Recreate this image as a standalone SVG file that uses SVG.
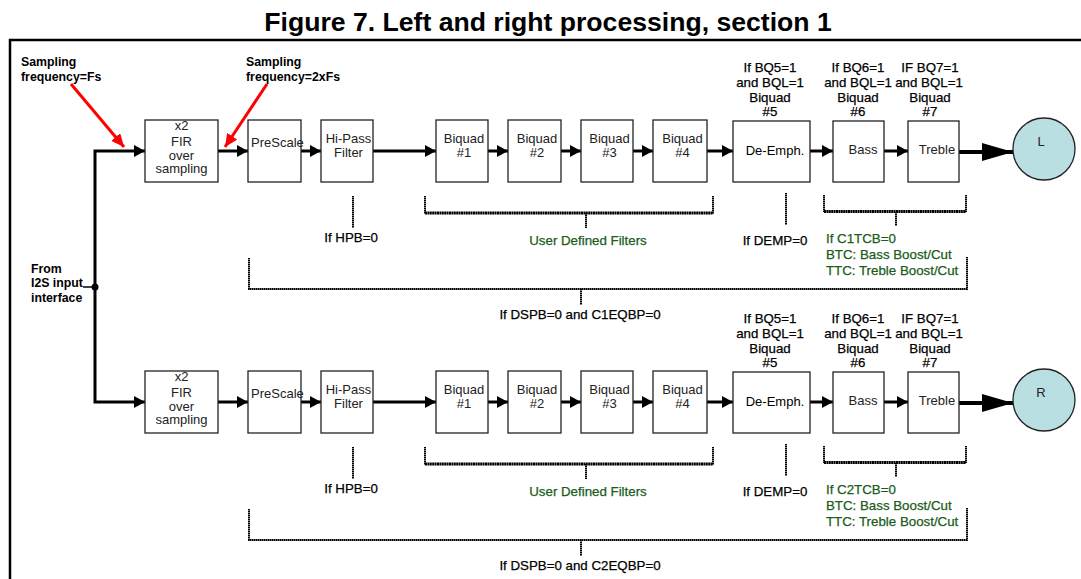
<svg xmlns="http://www.w3.org/2000/svg" width="1081" height="579" viewBox="0 0 1081 579">
<style>
.box{fill:#fff;stroke:#222;stroke-width:1.3}
.bt{font-family:"Liberation Sans",Arial,sans-serif;font-size:13px;fill:#222;text-anchor:middle}
.st{text-anchor:start}
.lb{font-family:"Liberation Sans",Arial,sans-serif;font-size:13.3px;fill:#000;stroke:#000;stroke-width:0.25;text-anchor:middle}
.gr{font-family:"Liberation Sans",Arial,sans-serif;font-size:13.3px;fill:#1a5c1a;stroke:#1a5c1a;stroke-width:0.25}
.bd{font-family:"Liberation Sans",Arial,sans-serif;font-size:12.3px;font-weight:bold;fill:#000}
.wire{fill:none;stroke:#000;stroke-width:3;marker-end:url(#ah)}
.big{fill:none;stroke:#000;stroke-width:4;marker-end:url(#bh)}
.red{fill:none;stroke:#f00;stroke-width:3;marker-end:url(#rh)}
.dot{fill:none;stroke:#000;stroke-width:2;stroke-dasharray:1.6 0.4}
.dotb{fill:none;stroke:#000;stroke-width:3.2;stroke-dasharray:2 0.4}
.circ{fill:#b9dfe3;stroke:#222;stroke-width:1.3}
</style>
<defs>
<marker id="ah" markerUnits="userSpaceOnUse" markerWidth="11" markerHeight="12" refX="11" refY="6" orient="auto"><path d="M0,0 L11,6 L0,12 z" fill="#000"/></marker>
<marker id="bh" markerUnits="userSpaceOnUse" markerWidth="31" markerHeight="18" refX="31" refY="9" orient="auto"><path d="M0,0 L31,9 L0,18 z" fill="#000"/></marker>
<marker id="rh" markerUnits="userSpaceOnUse" markerWidth="13" markerHeight="12" refX="13" refY="6" orient="auto"><path d="M0,0 L13,6 L0,12 z" fill="#f00"/></marker>
</defs>

<text x="548" y="31" text-anchor="middle" font-family="'Liberation Sans',Arial,sans-serif" font-size="26.6" font-weight="bold" fill="#000">Figure 7. Left and right processing, section 1</text>
<path d="M10,579 V40 H1081" fill="none" stroke="#000" stroke-width="2.5"/>

<g id="labels-top">
<text class="bd" x="21" y="66">Sampling</text>
<text class="bd" x="21" y="80.5">frequency=Fs</text>
<text class="bd" x="246" y="66">Sampling</text>
<text class="bd" x="246" y="80.5">frequency=2xFs</text>
</g>
<g id="input">
<text class="bd" x="31" y="273">From</text>
<text class="bd" x="31" y="287">I2S input</text>
<text class="bd" x="31" y="302">interface</text>
<circle cx="95" cy="287" r="3.5" fill="#000"/>
</g>

<g id="connectors">
<path class="red" d="M71,84 L124,147"/>
<path class="red" d="M267,84 L225,147"/>
<path d="M83,287 H95" stroke="#000" stroke-width="1.5"/>
<path class="wire" stroke-width="3.5" d="M95,287 V151 H145"/>
<path class="wire" stroke-width="3.5" d="M95,287 V402 H145"/>
<g id="conn-L">
<path class="wire" d="M218,151 H248"/>
<path class="wire" d="M301,151 H321"/>
<path class="wire" d="M373,151 H436"/>
<path class="wire" d="M488,151 H508"/>
<path class="wire" d="M561,151 H581"/>
<path class="wire" d="M633,151 H653"/>
<path class="wire" d="M707,151 H733"/>
<path class="wire" d="M810,151 H833"/>
<path class="wire" d="M884,151 H908"/>
<path class="big" d="M959,152 H1013"/>
<path class="dot" d="M353,196 V228"/>
<path class="dot" d="M425,196 V214 M713,196 V214 M586,213 V228"/>
<path class="dotb" d="M425,213 H713"/>
<path class="dot" d="M786,193 V225"/>
<path class="dot" d="M824,195 V212 M966,195 V212 M896,212 V226"/>
<path class="dotb" d="M824,211.5 H966"/>
<path class="dot" d="M249,258 V289 H967 V257 M581,289 V305"/>
</g>
<g id="conn-R" transform="translate(0,251)">
<path class="wire" d="M218,151 H248"/>
<path class="wire" d="M301,151 H321"/>
<path class="wire" d="M373,151 H436"/>
<path class="wire" d="M488,151 H508"/>
<path class="wire" d="M561,151 H581"/>
<path class="wire" d="M633,151 H653"/>
<path class="wire" d="M707,151 H733"/>
<path class="wire" d="M810,151 H833"/>
<path class="wire" d="M884,151 H908"/>
<path class="big" d="M959,152 H1013"/>
<path class="dot" d="M353,196 V228"/>
<path class="dot" d="M425,196 V214 M713,196 V214 M586,213 V228"/>
<path class="dotb" d="M425,213 H713"/>
<path class="dot" d="M786,193 V225"/>
<path class="dot" d="M824,195 V212 M966,195 V212 M896,212 V226"/>
<path class="dotb" d="M824,211.5 H966"/>
<path class="dot" d="M249,258 V289 H967 V257 M581,289 V305"/>
</g>
</g>

<g id="row-L">
<g id="fir-L"><rect class="box" x="145" y="120" width="73" height="62"/>
<text class="bt" x="181.5" y="130">x2</text><text class="bt" x="181.5" y="145.5">FIR</text><text class="bt" x="181.5" y="159.5">over</text><text class="bt" x="181.5" y="173">sampling</text></g>
<g id="prescale-L"><rect class="box" x="248" y="120" width="53" height="62"/>
<text class="bt st" x="251" y="147">PreScale</text></g>
<g id="hipass-L"><rect class="box" x="321" y="120" width="52" height="62"/>
<text class="bt" x="348.5" y="143">Hi-Pass</text><text class="bt" x="348.5" y="157">Filter</text></g>
<g id="bq1-L"><rect class="box" x="436" y="120" width="52" height="62"/>
<text class="bt" x="464" y="143">Biquad</text><text class="bt" x="464" y="157">#1</text></g>
<g id="bq2-L"><rect class="box" x="508" y="120" width="53" height="62"/>
<text class="bt" x="537" y="143">Biquad</text><text class="bt" x="537" y="157">#2</text></g>
<g id="bq3-L"><rect class="box" x="581" y="120" width="52" height="62"/>
<text class="bt" x="609.5" y="143">Biquad</text><text class="bt" x="609.5" y="157">#3</text></g>
<g id="bq4-L"><rect class="box" x="653" y="120" width="54" height="62"/>
<text class="bt" x="682.5" y="143">Biquad</text><text class="bt" x="682.5" y="157">#4</text></g>
<g id="deemph-L"><rect class="box" x="733" y="121" width="77" height="61"/>
<text class="bt" x="775" y="155" style="fill:#000">De-Emph.</text></g>
<g id="bass-L"><rect class="box" x="833" y="121" width="51" height="61"/>
<text class="bt" x="863" y="154">Bass</text></g>
<g id="treble-L"><rect class="box" x="908" y="121" width="51" height="61"/>
<text class="bt" x="937" y="154">Treble</text></g>
<g id="out-L"><circle class="circ" cx="1044" cy="149" r="31"/>
<text class="bt" x="1041" y="146">L</text></g>
<g id="lbl-L">
<text class="lb" x="770" y="72">If BQ5=1</text><text class="lb" x="770" y="87">and BQL=1</text><text class="lb" x="770" y="101.5">Biquad</text><text class="lb" x="770" y="116">#5</text>
<text class="lb" x="858" y="72">If BQ6=1</text><text class="lb" x="858" y="87">and BQL=1</text><text class="lb" x="858" y="101.5">Biquad</text><text class="lb" x="858" y="116">#6</text>
<text class="lb" x="930" y="72">IF BQ7=1</text><text class="lb" x="929" y="87">and BQL=1</text><text class="lb" x="930" y="101.5">Biquad</text><text class="lb" x="930" y="116">#7</text>
<text class="lb" x="351" y="242">If HPB=0</text>
<text class="lb" x="775" y="245">If DEMP=0</text>
<text class="gr" x="588" y="244.5" text-anchor="middle">User Defined Filters</text>
<text class="gr" x="826" y="243">If C1TCB=0</text>
<text class="gr" x="826" y="259">BTC: Bass Boost/Cut</text>
<text class="gr" x="826" y="275">TTC: Treble Boost/Cut</text>
<text class="lb" x="580" y="319">If DSPB=0 and C1EQBP=0</text>
</g>
</g>

<g id="row-R" transform="translate(0,251)">
<g id="fir-R"><rect class="box" x="145" y="120" width="73" height="62"/>
<text class="bt" x="181.5" y="130">x2</text><text class="bt" x="181.5" y="145.5">FIR</text><text class="bt" x="181.5" y="159.5">over</text><text class="bt" x="181.5" y="173">sampling</text></g>
<g id="prescale-R"><rect class="box" x="248" y="120" width="53" height="62"/>
<text class="bt st" x="251" y="147">PreScale</text></g>
<g id="hipass-R"><rect class="box" x="321" y="120" width="52" height="62"/>
<text class="bt" x="348.5" y="143">Hi-Pass</text><text class="bt" x="348.5" y="157">Filter</text></g>
<g id="bq1-R"><rect class="box" x="436" y="120" width="52" height="62"/>
<text class="bt" x="464" y="143">Biquad</text><text class="bt" x="464" y="157">#1</text></g>
<g id="bq2-R"><rect class="box" x="508" y="120" width="53" height="62"/>
<text class="bt" x="537" y="143">Biquad</text><text class="bt" x="537" y="157">#2</text></g>
<g id="bq3-R"><rect class="box" x="581" y="120" width="52" height="62"/>
<text class="bt" x="609.5" y="143">Biquad</text><text class="bt" x="609.5" y="157">#3</text></g>
<g id="bq4-R"><rect class="box" x="653" y="120" width="54" height="62"/>
<text class="bt" x="682.5" y="143">Biquad</text><text class="bt" x="682.5" y="157">#4</text></g>
<g id="deemph-R"><rect class="box" x="733" y="121" width="77" height="61"/>
<text class="bt" x="775" y="155" style="fill:#000">De-Emph.</text></g>
<g id="bass-R"><rect class="box" x="833" y="121" width="51" height="61"/>
<text class="bt" x="863" y="154">Bass</text></g>
<g id="treble-R"><rect class="box" x="908" y="121" width="51" height="61"/>
<text class="bt" x="937" y="154">Treble</text></g>
<g id="out-R"><circle class="circ" cx="1044" cy="149" r="31"/>
<text class="bt" x="1041" y="146">R</text></g>
<g id="lbl-R">
<text class="lb" x="770" y="72">If BQ5=1</text><text class="lb" x="770" y="87">and BQL=1</text><text class="lb" x="770" y="101.5">Biquad</text><text class="lb" x="770" y="116">#5</text>
<text class="lb" x="858" y="72">If BQ6=1</text><text class="lb" x="858" y="87">and BQL=1</text><text class="lb" x="858" y="101.5">Biquad</text><text class="lb" x="858" y="116">#6</text>
<text class="lb" x="930" y="72">IF BQ7=1</text><text class="lb" x="929" y="87">and BQL=1</text><text class="lb" x="930" y="101.5">Biquad</text><text class="lb" x="930" y="116">#7</text>
<text class="lb" x="351" y="242">If HPB=0</text>
<text class="lb" x="775" y="245">If DEMP=0</text>
<text class="gr" x="588" y="244.5" text-anchor="middle">User Defined Filters</text>
<text class="gr" x="826" y="243">If C2TCB=0</text>
<text class="gr" x="826" y="259">BTC: Bass Boost/Cut</text>
<text class="gr" x="826" y="275">TTC: Treble Boost/Cut</text>
<text class="lb" x="580" y="319">If DSPB=0 and C2EQBP=0</text>
</g>
</g>
</svg>
